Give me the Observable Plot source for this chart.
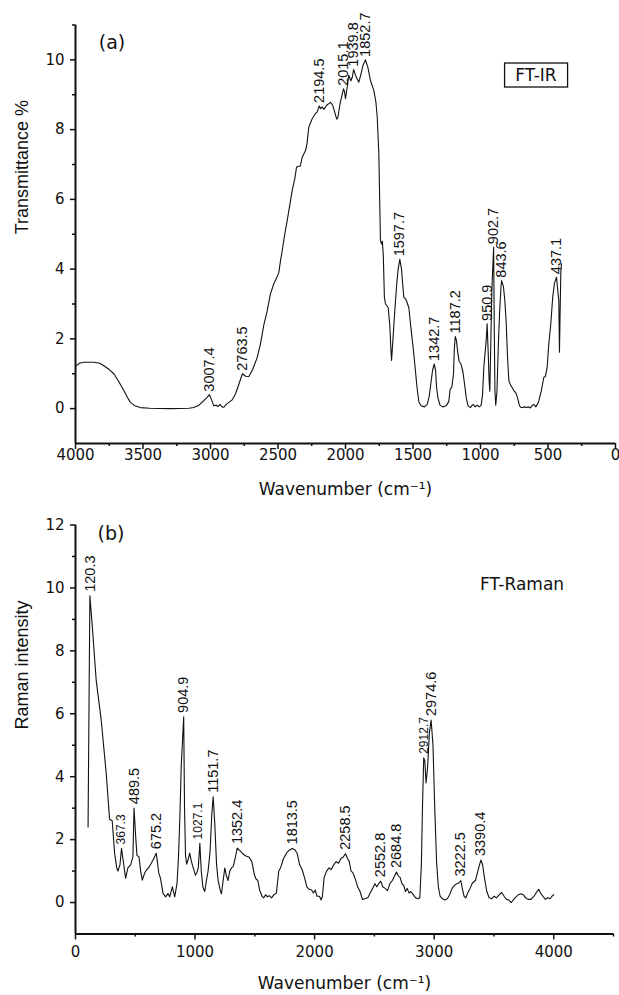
<!DOCTYPE html>
<html><head><meta charset="utf-8">
<script src="https://cdn.jsdelivr.net/npm/d3@7"></script>
<script src="https://cdn.jsdelivr.net/npm/@observablehq/plot@0.6"></script>
<style>
html,body{margin:0;padding:0;background:#fff;}
#chart{width:619px;}
#chart svg{display:block;}
</style></head><body><div id="chart"></div><script>
// ---------- FT-IR (a) ----------
const irWavenumber = [4000,3970,3938,3864,3820,3790,3750,3716,3680,3642,3615,3593,3560,3519,3450,3300,3160,3124,3085,3050,3025,3007.4,2992,2976,2958,2945,2930,2915,2901,2882,2864,2840,2815,2790,2763.5,2740,2716,2690,2670,2654,2630,2605,2580,2556,2531,2510,2494,2481,2469,2450,2432,2410,2395,2375,2363,2350,2335,2321,2296,2285,2272,2247,2225,2210,2194.5,2185,2173,2160,2140,2111,2095,2080,2065,2057,2040,2015.1,2008,2000,1988,1976,1960,1950,1939.8,1920,1901,1885,1870,1852.7,1835,1815,1790,1775,1765,1753,1745,1741,1733,1727,1720,1712,1704,1684,1672,1665,1659,1650,1635,1620,1610,1597.7,1585,1575,1568,1555,1545,1531,1515,1494,1480,1470,1457,1440,1415,1395,1380,1365,1355,1342.7,1333,1325,1315,1300,1280,1255,1235,1225,1212,1200,1194,1187.2,1178,1168,1158,1145,1130,1118,1105,1092,1075,1062,1052,1040,1025,1010,995,985,975,965,957,950.9,943,936,931,925,916,902.7,898,893,887,878,868,858,848,843.6,830,820,810,800,790,778,765,750,738,725,712,704,690,675,660,645,630,615,605,590,575,568,550,531,520,506,494,480,465,452,437.1,428,420,415,411,405,400];
const irTransmittance = [1.22,1.3,1.33,1.33,1.3,1.23,1.12,1.0,0.78,0.52,0.32,0.18,0.08,0.03,0.01,0,0.01,0.03,0.1,0.23,0.32,0.4,0.25,0.08,0.1,0.06,0.12,0.05,0.04,0.13,0.18,0.25,0.42,0.7,1.0,0.93,0.92,1.1,1.3,1.47,1.85,2.4,2.8,3.29,3.58,3.75,3.9,4.25,4.53,5.0,5.39,5.9,6.26,6.6,6.92,6.95,6.95,7.21,7.4,7.6,8.07,8.31,8.45,8.5,8.68,8.6,8.65,8.58,8.7,8.78,8.7,8.5,8.3,8.34,8.75,9.17,9.1,8.89,9.2,9.56,9.4,9.5,9.72,9.5,9.36,9.6,9.85,10.0,9.8,9.41,9.12,8.8,8.36,7.31,5.6,4.82,4.72,4.8,4.4,3.2,3.0,2.9,2.4,1.8,1.38,1.9,2.8,3.6,4.0,4.28,4.0,3.5,3.19,3.15,3.05,2.9,2.3,1.57,1.0,0.6,0.2,0.08,0.05,0.12,0.35,0.8,1.1,1.28,1.1,0.6,0.3,0.1,0.05,0.08,0.2,0.55,0.62,1.0,1.7,2.07,1.95,1.6,1.35,1.28,1.05,0.7,0.3,0.08,0.03,0.1,0.12,0.05,0.1,0.05,0.1,0.4,1.2,1.65,2.0,2.43,1.6,0.8,0.5,1.6,3.4,4.63,2.2,0.5,0.1,0.5,1.8,2.8,3.5,3.67,3.5,3.1,2.5,1.5,0.8,0.68,0.6,0.5,0.45,0.3,0.1,0.04,0.03,0.05,0.03,0.05,0.02,0.1,0.12,0.05,0.15,0.22,0.5,0.9,0.92,1.19,1.86,2.4,3.2,3.6,3.77,3.4,3.1,1.62,2.6,3.9,4.15];
const irPeakLabels = ["3007.4","2763.5","2194.5","2015.1","1939.8","1852.7","1597.7","1342.7","1187.2","950.9","902.7","843.6","437.1"];
const irPeakWn = [3007.4,2763.5,2194.5,2015.1,1939.8,1852.7,1597.7,1342.7,1187.2,950.9,902.7,843.6,437.1];
const irPeakT = [0.4,1.0,8.68,9.17,9.72,10.0,4.28,1.28,2.07,2.43,4.63,3.67,3.77];
const irXTicks = [4000,3500,3000,2500,2000,1500,1000,500,0];
const irXMinor = [3750,3250,2750,2250,1750,1250,750,250];
const irYTicks = [0,2,4,6,8,10];
const irYMinor = [1,3,5,7,9,11];

// ---------- FT-Raman (b) ----------
const ramanShift = [105,120.3,140,173,215,257,285,307,327,345,355,372,385,400,419,438,461,480,489.5,505,514,531,545,559,575,587,610,634,655,675.2,685,696,712,732,754,774,788,810,830,849,862,872,885,904.9,912,920,930,945,955,970,985,1003,1015,1027.1,1040,1052,1065,1081,1095,1109,1125,1140,1151.7,1165,1180,1193,1210,1221,1235,1249,1262,1276,1290,1305,1320,1335,1352.4,1375,1400,1425,1450,1475,1495,1510,1525,1540,1560,1575,1590,1605,1620,1640,1660,1680,1700,1715,1740,1770,1795,1813.5,1835,1855,1875,1895,1915,1935,1955,1975,1990,2005,2020,2040,2055,2065,2080,2100,2120,2140,2160,2180,2200,2220,2240,2258.5,2275,2290,2305,2320,2340,2360,2380,2400,2420,2445,2465,2485,2505,2520,2540,2552.8,2570,2590,2610,2630,2650,2670,2684.8,2700,2715,2730,2745,2760,2775,2790,2805,2825,2845,2865,2880,2893,2902,2912.7,2922,2932,2945,2960,2974.6,2990,3005,3020,3035,3050,3070,3090,3110,3130,3150,3170,3190,3205,3222.5,3235,3250,3265,3280,3300,3320,3345,3365,3390.4,3405,3420,3440,3460,3480,3500,3520,3545,3565,3585,3605,3625,3645,3665,3685,3705,3725,3745,3765,3785,3810,3835,3860,3875,3890,3910,3930,3950,3970,3985,4000];
const ramanIntensity = [2.4,9.75,8.8,7.07,5.8,4.1,2.65,2.6,1.57,1.1,1.0,1.2,1.72,1.3,0.77,1.1,1.2,1.45,3.0,2.0,1.5,1.45,1.0,0.71,0.9,1.0,1.1,1.25,1.4,1.57,1.3,0.95,0.75,0.29,0.18,0.29,0.18,0.5,0.18,0.6,1.5,2.6,4.4,5.9,3.0,1.5,1.22,1.4,1.57,1.3,1.1,0.87,0.95,1.1,1.88,1.0,0.5,0.35,0.7,1.0,1.6,2.8,3.36,2.5,1.2,0.7,0.4,0.28,0.7,1.1,0.85,0.7,1.0,1.1,1.15,1.4,1.73,1.65,1.55,1.48,1.45,1.3,0.9,0.75,0.7,0.4,0.2,0.15,0.25,0.18,0.22,0.15,0.25,0.3,1.0,1.1,1.4,1.6,1.68,1.72,1.68,1.55,1.2,1.05,0.8,0.5,0.42,0.4,0.3,0.4,0.2,0.2,0.08,0.2,0.8,1.0,1.1,1.05,1.2,1.3,1.25,1.4,1.45,1.55,1.4,1.3,1.0,0.95,0.75,0.5,0.35,0.1,0.12,0.15,0.3,0.45,0.6,0.5,0.62,0.68,0.5,0.45,0.38,0.6,0.7,0.85,0.97,0.85,0.8,0.6,0.55,0.35,0.45,0.3,0.35,0.25,0.15,0.12,0.15,1.2,3.0,4.6,4.5,3.8,4.3,5.4,5.8,5.0,3.0,1.3,0.5,0.2,0.12,0.08,0.12,0.25,0.45,0.55,0.6,0.62,0.7,0.45,0.2,0.15,0.3,0.45,0.62,0.7,1.0,1.35,1.2,0.8,0.35,0.15,0.12,0.2,0.15,0.25,0.32,0.2,0.1,0.08,0.0,0.1,0.18,0.25,0.28,0.25,0.15,0.1,0.1,0.2,0.35,0.42,0.3,0.2,0.1,0.15,0.12,0.2,0.25];
const ramanPeakLabels = ["120.3","367.3","489.5","675.2","904.9","1027.1","1151.7","1352.4","1813.5","2258.5","2552.8","2684.8","2912.7","2974.6","3222.5","3390.4"];
const ramanPeakWn = [120.3,385,489.5,675.2,904.9,1027.1,1151.7,1352.4,1813.5,2258.5,2552.8,2684.8,2912.7,2974.6,3222.5,3390.4];
const ramanPeakI = [9.75,1.72,3.0,1.57,5.9,1.88,3.36,1.73,1.72,1.55,0.68,0.97,4.6,5.8,0.7,1.35];
const ramanSmallLabels = ["367.3","1027.1","2912.7"];
const ramanXTicks = [0,1000,2000,3000,4000];
const ramanXMinor = [500,1500,2500,3500,4500];
const ramanYTicks = [0,2,4,6,8,10,12];
const ramanYMinor = [1,3,5,7,9,11];

const LIB = "'Liberation Sans', Arial, Helvetica, sans-serif";
const DJV = "'DejaVu Sans', Verdana, sans-serif";
const INK = "#111";

const irData = irWavenumber.map((w, i) => ({w, t: irTransmittance[i]}));
const ramanData = ramanShift.map((w, i) => ({w, v: ramanIntensity[i]}));

const topPlot = Plot.plot({
  width: 619, height: 500,
  marginTop: 24.5, marginBottom: 57, marginLeft: 75, marginRight: 4,
  style: {background: "white", color: INK, fontFamily: DJV, overflow: "visible"},
  x: {domain: [4000, 0]},
  y: {domain: [-1, 11]},
  marks: [
    Plot.line(irData, {x: "w", y: "t", stroke: INK, strokeWidth: 1.1}),
    Plot.axisX(irXTicks, {anchor: "bottom", tickSize: 6, tickPadding: 0, fontSize: 15, strokeWidth: 1.5, label: null, tickFormat: d => String(d)}),
    Plot.axisX(irXMinor, {anchor: "bottom", tickSize: 3, text: null, strokeWidth: 1.5, label: null}),
    Plot.axisY(irYTicks, {anchor: "left", tickSize: 5, tickPadding: 6, fontSize: 15, strokeWidth: 1.5, label: null, tickFormat: d => String(d)}),
    Plot.axisY(irYMinor, {anchor: "left", tickSize: 3, text: null, strokeWidth: 1.5, label: null}),
    Plot.ruleY([-1], {stroke: INK, strokeWidth: 2}),
    Plot.ruleX([4000], {stroke: INK, strokeWidth: 2}),
    Plot.text(irPeakLabels, {x: irPeakWn, y: irPeakT, text: irPeakLabels, rotate: -90, textAnchor: "start", lineAnchor: "middle", dy: -3, fontSize: 14.5, fontFamily: LIB, fill: INK}),
    Plot.text(["Wavenumber (cm\u207B\u00B9)"], {frameAnchor: "bottom", dy: 46, lineAnchor: "middle", fontSize: 17, fill: INK}),
    Plot.text(["Transmittance %"], {frameAnchor: "left", dx: -53, rotate: -90, lineAnchor: "middle", fontSize: 18, fontFamily: LIB, fill: INK}),
    Plot.text(["(a)"], {x: [3730], y: [10.48], lineAnchor: "middle", fontSize: 19, fill: INK}),
    Plot.text(["FT-IR"], {x: [589], y: [9.55], lineAnchor: "middle", fontSize: 17, fill: INK})
  ]
});

const bottomPlot = Plot.plot({
  width: 619, height: 495,
  marginTop: 24.5, marginBottom: 61.5, marginLeft: 75, marginRight: 6,
  style: {background: "white", color: INK, fontFamily: DJV, overflow: "visible"},
  x: {domain: [0, 4500]},
  y: {domain: [-1, 12]},
  marks: [
    Plot.line(ramanData, {x: "w", y: "v", stroke: INK, strokeWidth: 1.1}),
    Plot.axisX(ramanXTicks, {anchor: "bottom", tickSize: 6, tickPadding: 6, fontSize: 15, strokeWidth: 1.5, label: null, tickFormat: d => String(d)}),
    Plot.axisX(ramanXMinor, {anchor: "bottom", tickSize: 3, text: null, strokeWidth: 1.5, label: null}),
    Plot.axisY(ramanYTicks, {anchor: "left", tickSize: 5, tickPadding: 6, fontSize: 15, strokeWidth: 1.5, label: null, tickFormat: d => String(d)}),
    Plot.axisY(ramanYMinor, {anchor: "left", tickSize: 3, text: null, strokeWidth: 1.5, label: null}),
    Plot.ruleY([-1], {stroke: INK, strokeWidth: 2}),
    Plot.ruleX([0], {stroke: INK, strokeWidth: 2}),
    Plot.text(ramanPeakLabels, {x: ramanPeakWn, y: ramanPeakI, text: ramanPeakLabels, rotate: -90, textAnchor: "start", lineAnchor: "middle", dy: -4,
      fontSize: d => ramanSmallLabels.includes(d) ? 12 : 14.5, fontFamily: LIB, fill: INK}),
    Plot.text(["Wavenumber (cm\u207B\u00B9)"], {frameAnchor: "bottom", dy: 50, lineAnchor: "middle", fontSize: 17, fill: INK}),
    Plot.text(["Raman intensity"], {frameAnchor: "left", dx: -53, rotate: -90, lineAnchor: "middle", fontSize: 18, fontFamily: LIB, fill: INK}),
    Plot.text(["(b)"], {x: [297], y: [11.72], lineAnchor: "middle", fontSize: 19, fill: INK}),
    Plot.text(["FT-Raman"], {x: [3735], y: [10.1], lineAnchor: "middle", fontSize: 17, fill: INK})
  ]
});

const chart = document.getElementById("chart");
chart.appendChild(topPlot);
chart.appendChild(bottomPlot);

// box around the FT-IR tag
const ftir = Array.from(topPlot.querySelectorAll("text")).find(t => t.textContent === "FT-IR");
if (ftir) {
  const bb = ftir.getBBox();
  const m = topPlot.getScreenCTM().inverse().multiply(ftir.getScreenCTM());
  const cx = m.e + (bb.x + bb.width / 2) * m.a, cy = m.f + (bb.y + bb.height / 2) * m.d;
  d3.select(topPlot).append("rect")
    .attr("x", cx - 31.5).attr("y", cy - 12)
    .attr("width", 63).attr("height", 24)
    .attr("fill", "none").attr("stroke", INK).attr("stroke-width", 1.3);
}
</script></body></html>
